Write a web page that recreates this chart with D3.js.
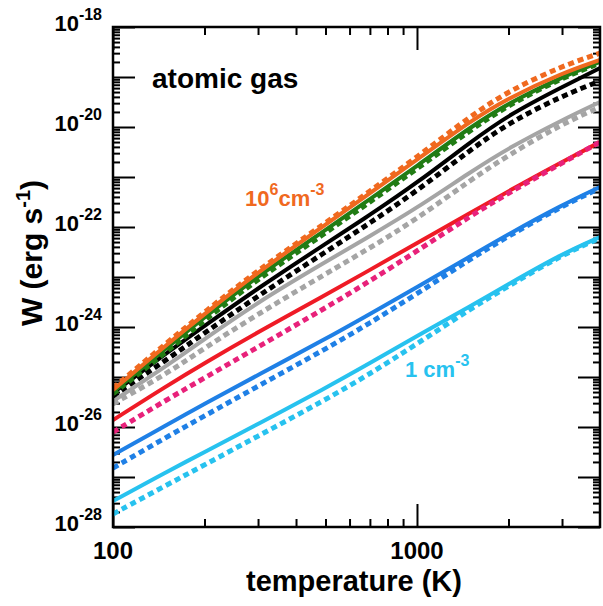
<!DOCTYPE html>
<meta charset="utf-8">
<style>
body { margin: 0; background: #fff; }
* { font-family: "Liberation Sans", Arial, Helvetica, sans-serif; }
.axis path { display: none; }
.axis line { stroke: #000; stroke-width: 2px; }
.frame { fill: none; stroke: #000; stroke-width: 2.5px; }
.line { fill: none; stroke-linejoin: round; }
.solid { stroke-width: 4px; }
.dashed { stroke-width: 5px; stroke-dasharray: 6,4; }
.lbl { font-weight: bold; }
</style>
<body>
<script src="https://cdn.jsdelivr.net/npm/d3@7"></script>
<script>

// temperature grid (K)
var temps = [100, 150, 200, 300, 500, 700, 1000, 1500, 2000, 3000, 4000];

// W (erg s^-1), solid and dashed curves
var orangeSolid  = [5.5e-26, 4.4e-25, 1.82e-24, 1.26e-23, 1.1e-22, 4.8e-22, 2.2e-21, 1.32e-20, 3.8e-20, 1.2e-19, 2.2e-19];
var orangeDashed = [6.0e-26, 4.8e-25, 2.0e-24, 1.38e-23, 1.2e-22, 5.25e-22, 2.5e-21, 1.66e-20, 5.25e-20, 1.66e-19, 3.0e-19];
var greenSolid   = [5.0e-26, 3.8e-25, 1.58e-24, 1.05e-23, 8.7e-23, 3.6e-22, 1.66e-21, 1.0e-20, 3.0e-20, 1.0e-19, 2.0e-19];
var greenDashed  = [4.6e-26, 3.16e-25, 1.38e-24, 9.1e-24, 7.6e-23, 3.16e-22, 1.45e-21, 8.7e-21, 2.75e-20, 9.55e-20, 1.9e-19];
var blackSolid   = [4.8e-26, 3.0e-25, 1.05e-24, 6.0e-24, 4.6e-23, 1.74e-22, 7.6e-22, 5.0e-21, 1.74e-20, 6.3e-20, 1.51e-19];
var blackDashed  = [4.2e-26, 2.2e-25, 7.6e-25, 4.2e-24, 3.16e-23, 1.2e-22, 5.25e-22, 3.5e-21, 1.2e-20, 4.2e-20, 8.3e-20];
var graySolid    = [3.3e-26, 1.66e-25, 5.75e-25, 3.16e-24, 2.0e-23, 6.6e-23, 2.4e-22, 1.26e-21, 3.8e-21, 1.38e-20, 3.16e-20];
var grayDashed   = [2.9e-26, 1.15e-25, 3.8e-25, 1.82e-24, 1.15e-23, 3.8e-23, 1.45e-22, 8.7e-22, 2.75e-21, 1.15e-20, 2.5e-20];
var redSolid     = [1.38e-26, 6.6e-26, 1.9e-25, 7.9e-25, 4.4e-24, 1.38e-23, 4.8e-23, 1.9e-22, 5.25e-22, 2.0e-21, 5.0e-21];
var pinkDashed   = [7.9e-27, 3.5e-26, 9.55e-26, 4.0e-25, 2.4e-24, 8.3e-24, 3.3e-23, 1.66e-22, 4.8e-22, 1.9e-21, 5.0e-21];
var blueSolid    = [2.75e-27, 1.1e-26, 2.9e-26, 1.1e-25, 5.75e-25, 1.82e-24, 6.3e-24, 2.6e-23, 7.2e-23, 2.75e-22, 6.3e-22];
var blueDashed   = [1.51e-27, 6.3e-27, 1.66e-26, 6.6e-26, 3.6e-25, 1.2e-24, 4.6e-24, 2.3e-23, 6.6e-23, 2.6e-22, 6.0e-22];
var cyanSolid    = [3.3e-28, 1.26e-27, 3.16e-27, 1.15e-26, 6.0e-26, 1.9e-25, 6.6e-25, 2.6e-24, 7.2e-24, 2.9e-23, 6.3e-23];
var cyanDashed   = [1.82e-28, 6.9e-28, 1.74e-27, 6.6e-27, 3.5e-26, 1.15e-25, 4.6e-25, 2.3e-24, 6.6e-24, 2.75e-23, 6.0e-23];

// tick labels
var xLabels = [100, 1000];
var yLabelExps = [-18, -20, -22, -24, -26, -28];

var series = [
  {vals: cyanSolid,    color: "#27C2EF", dashed: false},
  {vals: cyanDashed,   color: "#27C2EF", dashed: true},
  {vals: blueSolid,    color: "#1F80E6", dashed: false},
  {vals: blueDashed,   color: "#1F80E6", dashed: true},
  {vals: redSolid,     color: "#EF1B26", dashed: false},
  {vals: pinkDashed,   color: "#E8217A", dashed: true},
  {vals: graySolid,    color: "#A5A5A5", dashed: false},
  {vals: grayDashed,   color: "#A5A5A5", dashed: true},
  {vals: blackSolid,   color: "#000000", dashed: false},
  {vals: blackDashed,  color: "#000000", dashed: true},
  {vals: greenSolid,   color: "#217C14", dashed: false},
  {vals: greenDashed,  color: "#217C14", dashed: true},
  {vals: orangeSolid,  color: "#F0691F", dashed: false},
  {vals: orangeDashed, color: "#F0691F", dashed: true}
];

var margin = {top: 27, right: 3, bottom: 79, left: 113},
    width = 603 - margin.left - margin.right,
    height = 606 - margin.top - margin.bottom;

var x = d3.scaleLog().domain([100, 4000]).range([0, width]);
var y = d3.scaleLog().domain([1e-28, 1e-18]).range([height, 0]);

var svg = d3.select("body").append("svg")
    .attr("width", 603)
    .attr("height", 606)
  .append("g")
    .attr("transform", "translate(" + margin.left + "," + margin.top + ")");

svg.append("defs").append("clipPath").attr("id", "clip")
  .append("rect").attr("width", width).attr("height", height);

// tick values
var yMajor = d3.range(-28, -17).map(function(e) { return Math.pow(10, e); });
var yMinor = [];
d3.range(-28, -18).forEach(function(e) {
  for (var k = 2; k <= 9; k++) yMinor.push(k * Math.pow(10, e));
});
var xMajor = [100, 1000];
var xMinor = [200, 300, 400, 500, 600, 700, 800, 900, 2000, 3000];

// axes with inward ticks on all four sides
svg.append("g").attr("class", "axis").call(d3.axisLeft(y).tickValues(yMajor).tickSize(-22).tickFormat(""));
svg.append("g").attr("class", "axis").call(d3.axisLeft(y).tickValues(yMinor).tickSize(-7).tickFormat(""));
svg.append("g").attr("class", "axis").attr("transform", "translate(" + width + ",0)")
    .call(d3.axisRight(y).tickValues(yMajor).tickSize(-22).tickFormat(""));
svg.append("g").attr("class", "axis").attr("transform", "translate(" + width + ",0)")
    .call(d3.axisRight(y).tickValues(yMinor).tickSize(-7).tickFormat(""));
svg.append("g").attr("class", "axis").attr("transform", "translate(0," + height + ")")
    .call(d3.axisBottom(x).tickValues(xMajor).tickSize(-23).tickFormat(""));
svg.append("g").attr("class", "axis").attr("transform", "translate(0," + height + ")")
    .call(d3.axisBottom(x).tickValues(xMinor).tickSize(-8).tickFormat(""));
svg.append("g").attr("class", "axis")
    .call(d3.axisTop(x).tickValues(xMajor).tickSize(-23).tickFormat(""));
svg.append("g").attr("class", "axis")
    .call(d3.axisTop(x).tickValues(xMinor).tickSize(-8).tickFormat(""));

// curves
var line = d3.line()
    .x(function(d, i) { return x(temps[i]); })
    .y(function(d) { return y(d); })
    .curve(d3.curveBasis);

var plot = svg.append("g").attr("clip-path", "url(#clip)");
series.forEach(function(s) {
  plot.append("path")
      .datum(s.vals)
      .attr("class", "line " + (s.dashed ? "dashed" : "solid"))
      .attr("d", line)
      .style("stroke", s.color);
});

svg.append("rect").attr("class", "frame").attr("width", width).attr("height", height);

// y tick labels 10^n
yLabelExps.forEach(function(e) {
  var t = svg.append("text")
      .attr("class", "lbl")
      .attr("text-anchor", "end")
      .attr("x", -11)
      .attr("y", y(Math.pow(10, e)) + 4)
      .style("font-size", "22px");
  t.append("tspan").text("10");
  t.append("tspan").attr("dy", -11).style("font-size", "16px").text(String(e));
});

// x tick labels
xLabels.forEach(function(v) {
  svg.append("text")
      .attr("class", "lbl")
      .attr("text-anchor", "middle")
      .attr("x", x(v))
      .attr("y", height + 32)
      .style("font-size", "24px")
      .text(v);
});

// axis titles
svg.append("text")
    .attr("class", "lbl")
    .attr("text-anchor", "middle")
    .attr("x", 241)
    .attr("y", height + 64)
    .style("font-size", "29px")
    .text("temperature (K)");

var yt = svg.append("text")
    .attr("class", "lbl")
    .attr("text-anchor", "middle")
    .attr("transform", "translate(" + (-71) + "," + y(Math.pow(10, -22.52)) + ")rotate(-90)")
    .style("font-size", "30px");
yt.append("tspan").text("W (erg s");
yt.append("tspan").attr("dy", -12).style("font-size", "20px").text("-1");
yt.append("tspan").attr("dy", 12).text(")");

// annotations
svg.append("text")
    .attr("class", "lbl")
    .attr("x", 39)
    .attr("y", 61)
    .style("font-size", "28px")
    .text("atomic gas");

var a1 = svg.append("text")
    .attr("class", "lbl")
    .attr("x", 132)
    .attr("y", 179)
    .style("font-size", "22px")
    .style("fill", "#F0691F");
a1.append("tspan").text("10");
a1.append("tspan").attr("dy", -11).style("font-size", "16px").text("6");
a1.append("tspan").attr("dy", 11).text("cm");
a1.append("tspan").attr("dy", -11).style("font-size", "16px").text("-3");

var a2 = svg.append("text")
    .attr("class", "lbl")
    .attr("x", 292)
    .attr("y", 350)
    .style("font-size", "22px")
    .style("fill", "#27C2EF");
a2.append("tspan").text("1 cm");
a2.append("tspan").attr("dy", -11).style("font-size", "16px").text("-3");

</script>
</body>
</html>
